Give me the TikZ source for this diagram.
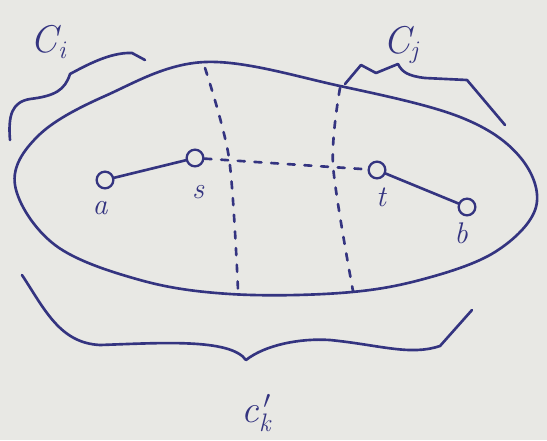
\documentclass[tikz,border=0pt]{standalone}
\usetikzlibrary{calc}
\definecolor{ink}{RGB}{52,52,128}
\definecolor{paper}{RGB}{232,232,228}
\tikzset{
  pen/.style={draw=ink, line width=1.5pt, line cap=round, line join=round},
  dashpen/.style={pen, dash pattern=on 4pt off 5.5pt},
  vertex/.style={circle, draw=ink, line width=1.3pt, fill=paper, minimum size=9.5pt, inner sep=0pt},
  lbl/.style={text=ink, font=\fontsize{17}{20}\selectfont\itshape},
  biglbl/.style={text=ink, font=\fontsize{22}{26}\selectfont\itshape},
}
\begin{document}
\begin{tikzpicture}[x=0.02cm, y=-0.02cm]
\fill[paper] (0,0) rectangle (547,440);
\useasboundingbox (0,0) rectangle (547,440);
% region outline
\draw[pen] plot[smooth cycle, tension=0.6] coordinates {
  (15,185) (38,136) (105,96) (205,62) (340,86) (460,117) (520,157)
  (536,207) (495,252) (420,280) (340,293) (230,294) (140,280) (55,245)};
% cut lines
\coordinate (c1t) at (205,68);
\coordinate (c1m) at (229,158);
\coordinate (c1b) at (238,290);
\coordinate (c2t) at (340,88);
\coordinate (c2m) at (333,165);
\coordinate (c2b) at (353,291);
\draw[dashpen] plot[smooth] coordinates {(c1t) (c1m) (c1b)};
\draw[dashpen] plot[smooth] coordinates {(c2t) (c2m) (c2b)};
% vertices
\node[vertex] (a) at (105,180) {};
\node[vertex] (s) at (195,158) {};
\node[vertex] (t) at (377,170) {};
\node[vertex] (b) at (467,207) {};
\draw[pen] (a) -- (s);
\draw[pen] (t) -- (b);
\draw[dashpen] (s) -- (t);
\node[lbl] (la) at (100,208) {a};
\node[lbl] (ls) at (198,192) {s};
\node[lbl] (lt) at (381,197) {t};
\node[lbl] (lb) at (461,233) {b};
% braces
\coordinate (bi1) at (10,140);
\coordinate (bi2) at (145,60);
\draw[pen] (bi1) .. controls (8,115) and (12,102) .. (30,99)
  .. controls (55,96) and (65,90) .. (70,74)
  .. controls (85,66) and (110,52) .. (132,53) -- (bi2);
\coordinate (bj1) at (345,84);
\coordinate (bj2) at (505,125);
\draw[pen] (bj1) -- (361,65) -- (376,73) -- (398,64)
  .. controls (402,72) and (408,76) .. (425,78) -- (467,80) -- (bj2);
\coordinate (bk1) at (22,275);
\coordinate (bk2) at (472,310);
\draw[pen] (bk1) .. controls (45,310) and (60,343) .. (100,345)
  .. controls (160,343) and (230,338) .. (246,360)
  .. controls (265,345) and (300,338) .. (330,340)
  .. controls (380,345) and (410,356) .. (440,346) -- (bk2);
\node[biglbl] (ci) at (50,42) {C$_{\mathit{i}}$};
\node[biglbl] (cj) at (403,45) {C$_{\mathit{j}}$};
\node[biglbl] (ck) at (258,413) {c$_{\mathit{k}}^{\,\prime}$};
\end{tikzpicture}
\end{document}
